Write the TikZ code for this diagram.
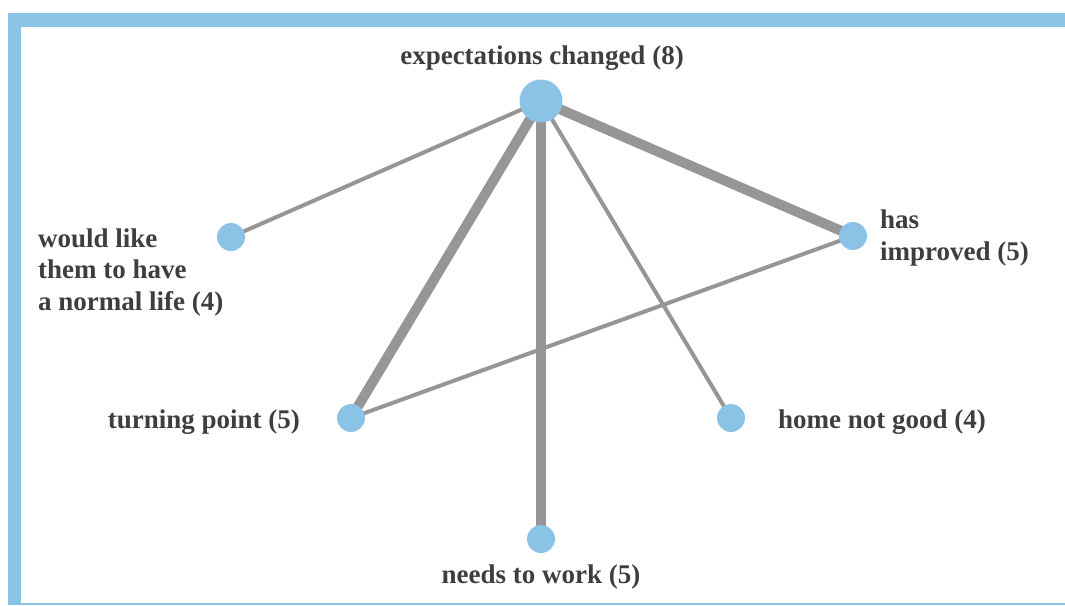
\documentclass[tikz,border=0pt]{standalone}
\usepackage{fontspec}
\setmainfont{Liberation Serif}
\usetikzlibrary{backgrounds}
\definecolor{nodeblue}{RGB}{139,195,231}
\definecolor{edgegray}{RGB}{150,150,150}
\definecolor{txt}{RGB}{62,62,62}
\tikzset{
  dot/.style={circle,fill=nodeblue,inner sep=0pt,minimum size=#1},
  dot/.default=28pt,
  lbl/.style={font=\fontsize{27}{31.5}\selectfont\bfseries,text=txt,inner sep=0pt,align=left},
  thinedge/.style={draw=edgegray,line width=4pt},
  thickedge/.style={draw=edgegray,line width=10pt},
}
\begin{document}
\begin{tikzpicture}[x=1pt,y=-1pt]
\useasboundingbox (0,0) rectangle (1065,605);
% frame
\fill[nodeblue] (8,13) rectangle (1065,27);
\fill[nodeblue] (8,13) rectangle (21,605);
\fill[nodeblue] (8,602.5) rectangle (1065,605);
% nodes
\node[dot=43pt] (ec) at (541,101) {};
\node[dot] (wl) at (231,237) {};
\node[dot] (hi) at (853,236) {};
\node[dot] (tp) at (351,418) {};
\node[dot] (hn) at (731,418) {};
\node[dot] (nw) at (541,539) {};
% labels
\node[lbl,anchor=base] (ecl) at (542,64) {expectations changed (8)};
\node[lbl,anchor=base west] (wll) at (38,310) {would like\\them to have\\a normal life (4)};
\node[lbl,anchor=base west] (hil) at (880,260) {has\\improved (5)};
\node[lbl,anchor=base east] (tpl) at (300,428) {turning point (5)};
\node[lbl,anchor=base west] (hnl) at (778,428) {home not good (4)};
\node[lbl,anchor=base] (nwl) at (541,583) {needs to work (5)};
% edges
\begin{scope}[on background layer]
\draw[thinedge] (ec.center) -- (wl.center);
\draw[thickedge] (ec.center) -- (tp.center);
\draw[thickedge] (ec.center) -- (nw.center);
\draw[thinedge] (ec.center) -- (hn.center);
\draw[thickedge] (ec.center) -- (hi.center);
\draw[thinedge] (hi.center) -- (tp.center);
\end{scope}
\end{tikzpicture}
\end{document}
